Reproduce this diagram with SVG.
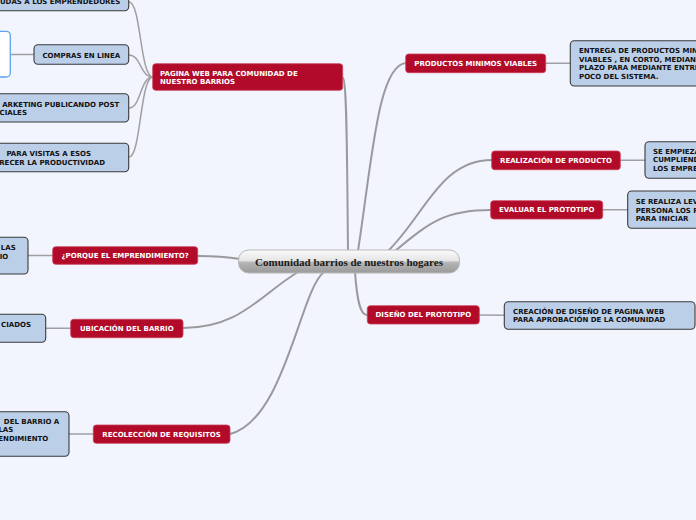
<svg xmlns="http://www.w3.org/2000/svg" width="696" height="520" viewBox="0 0 696 520">
<defs>
<linearGradient id="cg" x1="0" y1="0" x2="0" y2="1">
<stop offset="0" stop-color="#fbfbfb"/>
<stop offset="0.45" stop-color="#e6e6e6"/>
<stop offset="0.55" stop-color="#b4b4b4"/>
<stop offset="1" stop-color="#9a9a9a"/>
</linearGradient>
</defs>
<style>
.main rect{fill:#b20b29;stroke:#c9405a;stroke-width:0.8}
.main text{fill:#ffffff;font-family:"DejaVu Sans",Verdana,sans-serif;font-weight:bold;font-size:7px}
.sub rect{fill:#bccfe9;stroke:#3a3a3a;stroke-width:1.1}
.sub text{fill:#111111;font-family:"DejaVu Sans",Verdana,sans-serif;font-weight:bold;font-size:7px}
.c{text-anchor:middle}
.e{text-anchor:end}
#connectors path{fill:none;stroke:#a0a0a4;stroke-width:1.5;stroke-linecap:round}
#connectors .t{stroke:#9a9a9e;stroke-width:2}
</style>
<rect x="0" y="0" width="696" height="520" fill="#f2f5fd"/>

<g id="connectors">
<path class="t" d="M348,251 C347,160 347,80 343,78"/>
<path class="t" d="M358,251 C372,160 378,65 406,63"/>
<path class="t" d="M388,251 C425,215 440,160 492,160"/>
<path class="t" d="M395,251 C430,222 445,210 491,210"/>
<path class="t" d="M355,272 C357,300 360,315 367,315"/>
<path class="t" d="M324,272 C300,290 285,420 230,434"/>
<path class="t" d="M298,272 C260,295 240,328 183,328"/>
<path class="t" d="M240,259 C222,256 212,256 198,256"/>
<path d="M153,77 C140,77 141,2 129,2"/>
<path d="M153,77 C140,77 141,55 129,55"/>
<path d="M153,77 C140,77 141,108 129,108"/>
<path d="M153,77 C140,77 141,157 129,157"/>
<path d="M10,54.5 L34,54.5"/>
<path d="M28,255.5 L53,255.5"/>
<path d="M46,328.3 L71,328.3"/>
<path d="M69,434 L93,434"/>
<path d="M546,63.3 L570,63.3"/>
<path d="M620,160.2 L645,160.2"/>
<path d="M603,209.8 L628,209.8"/>
<path d="M479,315 L504,315.3"/>
</g>

<g id="central">
<rect x="238.5" y="250" width="221" height="23" rx="10" ry="10" fill="url(#cg)" stroke="#b8b8b8" stroke-width="1"/>
<text x="349" y="265.5" text-anchor="middle" font-family="'Liberation Serif',Georgia,serif" font-weight="bold" font-size="11" fill="#1a1a1a">Comunidad barrios de nuestros hogares</text>
</g>

<g id="pagina-web" class="main">
<rect x="152.7" y="63.7" width="190" height="26.6" rx="3"/>
<text x="160" y="75.6">PAGINA WEB PARA COMUNIDAD DE</text>
<text x="160" y="84">NUESTRO BARRIOS</text>
</g>
<g id="porque" class="main">
<rect x="52.7" y="246.7" width="145" height="17.6" rx="3"/>
<text class="c" x="125.2" y="258">¿PORQUE EL EMPRENDIMIENTO?</text>
</g>
<g id="ubicacion" class="main">
<rect x="70.7" y="319.3" width="112.3" height="18.4" rx="3"/>
<text class="c" x="126.8" y="331">UBICACIÓN DEL BARRIO</text>
</g>
<g id="recoleccion" class="main">
<rect x="93.3" y="425" width="136.7" height="18.3" rx="3"/>
<text class="c" x="161.6" y="436.7">RECOLECCIÓN DE REQUISITOS</text>
</g>
<g id="productos" class="main">
<rect x="405.7" y="54" width="140" height="18.7" rx="3"/>
<text class="c" x="475.7" y="65.9">PRODUCTOS MINIMOS VIABLES</text>
</g>
<g id="realizacion" class="main">
<rect x="491.7" y="151" width="128.6" height="18.7" rx="3"/>
<text class="c" x="556" y="162.9">REALIZACIÓN DE PRODUCTO</text>
</g>
<g id="evaluar" class="main">
<rect x="490.7" y="200.7" width="112" height="18.3" rx="3"/>
<text class="c" x="546.7" y="212.4">EVALUAR EL PROTOTIPO</text>
</g>
<g id="diseno" class="main">
<rect x="367.3" y="305.7" width="112" height="18.3" rx="3"/>
<text class="c" x="423.3" y="317.4">DISEÑO DEL PROTOTIPO</text>
</g>

<g id="sub-ayudas" class="sub">
<rect x="-100" y="-12" width="228.7" height="22.7" rx="4"/>
<text class="e" x="120.3" y="4.4">UDAS A LOS EMPRENDEDORES</text>
</g>
<g id="sub-imagen">
<rect x="-20" y="31.3" width="30.3" height="45.7" rx="4" fill="#ffffff" stroke="#5ea3ec" stroke-width="1.3"/>
</g>
<g id="sub-compras" class="sub">
<rect x="34" y="44.7" width="94.7" height="19.6" rx="4"/>
<text class="c" x="81.3" y="57.9">COMPRAS EN LINEA</text>
</g>
<g id="sub-marketing" class="sub">
<rect x="-100" y="93.7" width="228.7" height="28.3" rx="4"/>
<text class="e" x="119.3" y="106.6">ARKETING PUBLICANDO POST</text>
<text x="-0.5" y="114.9">CIALES</text>
</g>
<g id="sub-visitas" class="sub">
<rect x="-100" y="143.3" width="228.7" height="28.4" rx="4"/>
<text class="e" x="91" y="155.9">PARA VISITAS A ESOS</text>
<text class="e" x="105" y="164.7">RECER LA PRODUCTIVIDAD</text>
</g>
<g id="sub-porque" class="sub">
<rect x="-100" y="237.3" width="128" height="36.7" rx="4"/>
<text class="e" x="15.7" y="249.9">LAS</text>
<text class="e" x="8.3" y="258.6">IO</text>
</g>
<g id="sub-ubicacion" class="sub">
<rect x="-100" y="314.3" width="145.7" height="28" rx="4"/>
<text class="e" x="31" y="326.9">CIADOS</text>
</g>
<g id="sub-recoleccion" class="sub">
<rect x="-100" y="411.7" width="169" height="44.6" rx="4"/>
<text class="e" x="59.3" y="424.2">DEL BARRIO A</text>
<text class="e" x="13.3" y="432.4">LAS</text>
<text class="e" x="48.3" y="440.8">ENDIMIENTO</text>
</g>
<g id="sub-entrega" class="sub">
<rect x="570.3" y="40.7" width="200" height="45.3" rx="4"/>
<text x="579" y="53.2">ENTREGA DE PRODUCTOS MINIMOS</text>
<text x="579" y="61.7">VIABLES , EN CORTO, MEDIANO</text>
<text x="579" y="70.2">PLAZO PARA MEDIANTE ENTREGAR</text>
<text x="579" y="78.7">POCO DEL SISTEMA.</text>
</g>
<g id="sub-empieza" class="sub">
<rect x="645" y="141.7" width="120" height="36.6" rx="4"/>
<text x="653" y="153.6">SE EMPIEZA</text>
<text x="653" y="162.1">CUMPLIEND</text>
<text x="653" y="170.6">LOS EMPRE</text>
</g>
<g id="sub-realiza" class="sub">
<rect x="627.7" y="191" width="140" height="37.3" rx="4"/>
<text x="635.7" y="203.9">SE REALIZA LEV</text>
<text x="635.7" y="212.5">PERSONA LOS R</text>
<text x="635.7" y="221.1">PARA INICIAR</text>
</g>
<g id="sub-creacion" class="sub">
<rect x="504.3" y="301.7" width="190.7" height="27.6" rx="4"/>
<text x="513" y="313.9">CREACIÓN DE DISEÑO DE PAGINA WEB</text>
<text x="513" y="322.3">PARA APROBACIÓN DE LA COMUNIDAD</text>
</g>
</svg>
